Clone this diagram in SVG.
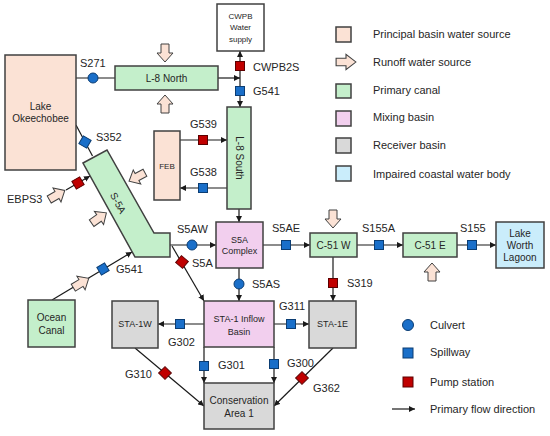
<svg xmlns="http://www.w3.org/2000/svg" xmlns:xlink="http://www.w3.org/1999/xlink" width="550" height="436" viewBox="0 0 550 436">
<style>
text{font-family:"Liberation Sans",Arial,sans-serif;fill:#262626}
.lbl{font-size:11px}
.nt{font-size:10px;text-anchor:middle}
.ns{font-size:9px;text-anchor:middle}
.box{stroke:#404040;stroke-width:1.5}
.peach{fill:#fbe2d5}
.green{fill:#c4efcb}
.pink{fill:#f2cfee}
.gray{fill:#d9d9d9}
.blue{fill:#caedfb}
.white{fill:#ffffff}
.con{stroke:#1a1a1a;stroke-width:1.2;fill:none}
.arr{marker-end:url(#ah)}
.cul,.spl{fill:#1a6fc9;stroke:#0b3d73;stroke-width:1}
.pmp{fill:#c00000;stroke:#5c0000;stroke-width:1}
.run{fill:#fbe2d5;stroke:#404040;stroke-width:1}
</style>
<defs>
<marker id="ah" viewBox="0 0 10 10" refX="10" refY="5" markerWidth="6" markerHeight="6" orient="auto" markerUnits="userSpaceOnUse"><path d="M0,0 L10,5 L0,10 z" fill="#1a1a1a"/></marker>
<path id="runoff" d="M-9,-4 L0,-4 L0,-8 L9,0 L0,8 L0,4 L-9,4 Z"/>
<rect id="sq" x="-4.5" y="-4.5" width="9" height="9"/>
</defs>
<rect width="550" height="436" fill="#ffffff"/>

<g id="connectors">
<line class="con" x1="76" y1="78" x2="115" y2="78"/>
<line class="con arr" x1="218" y1="78" x2="240" y2="78"/>
<line class="con arr" x1="240" y1="78" x2="240" y2="51"/>
<line class="con arr" x1="240" y1="78" x2="240" y2="107"/>
<line class="con arr" x1="180" y1="140" x2="227" y2="140"/>
<line class="con arr" x1="227" y1="188" x2="180" y2="188"/>
<line class="con arr" x1="239" y1="209" x2="239" y2="222"/>
<line class="con" x1="76" y1="125" x2="92.5" y2="156"/>
<line class="con arr" x1="66" y1="190" x2="90" y2="176"/>
<line class="con arr" x1="52" y1="300" x2="132" y2="252"/>
<line class="con arr" x1="169" y1="245" x2="216" y2="245"/>
<line class="con arr" x1="172" y1="246" x2="204" y2="301"/>
<line class="con arr" x1="263" y1="245" x2="310" y2="245"/>
<line class="con arr" x1="357" y1="245" x2="403" y2="245"/>
<line class="con arr" x1="457" y1="245" x2="496" y2="245"/>
<line class="con arr" x1="333" y1="257" x2="333" y2="301"/>
<line class="con arr" x1="239" y1="268" x2="239" y2="301"/>
<line class="con arr" x1="204" y1="324" x2="158" y2="324"/>
<line class="con arr" x1="274" y1="324" x2="309" y2="324"/>
<line class="con arr" x1="204" y1="347" x2="204" y2="383"/>
<line class="con arr" x1="274" y1="347" x2="274" y2="383"/>
<line class="con arr" x1="135" y1="348" x2="204" y2="406"/>
<line class="con arr" x1="333" y1="348" x2="274" y2="406"/>
</g>

<g id="lake-okeechobee">
<rect class="box peach" x="5" y="55" width="71" height="115"/>
<text class="nt" x="40.5" y="110">Lake</text>
<text class="nt" x="40.5" y="122">Okeechobee</text>
</g>
<g id="l8-north">
<rect class="box green" x="115" y="66" width="103" height="24"/>
<text class="nt" x="166.5" y="81.5">L-8 North</text>
</g>
<g id="cwpb">
<rect class="box white" x="217" y="4" width="47" height="47"/>
<text class="nt" style="font-size:8px" x="240.5" y="19">CWPB</text>
<text class="nt" style="font-size:8px" x="240.5" y="30">Water</text>
<text class="nt" style="font-size:8px" x="240.5" y="42">supply</text>
</g>
<g id="l8-south">
<rect class="box green" x="227" y="107" width="24" height="102"/>
<text class="nt" transform="translate(239,158) rotate(90)" y="3.5">L-8 South</text>
</g>
<g id="feb">
<rect class="box peach" x="154" y="131" width="26" height="69"/>
<text class="nt" style="font-size:8px" x="167" y="169">FEB</text>
</g>
<g id="s-5a">
<polygon class="box green" points="83,163 107,150 154,233 170,233 170,257 135,257"/>
<text class="nt" transform="translate(118,203) rotate(62)" y="3.5">S-5A</text>
</g>
<g id="s5a-complex">
<rect class="box pink" x="216" y="222" width="47" height="46"/>
<text class="ns" x="239.5" y="243">S5A</text>
<text class="ns" x="239.5" y="254">Complex</text>
</g>
<g id="c51w">
<rect class="box green" x="310" y="233" width="47" height="24"/>
<text class="nt" x="333.5" y="248.5">C-51 W</text>
</g>
<g id="c51e">
<rect class="box green" x="403" y="233" width="54" height="24"/>
<text class="nt" x="430" y="248.5">C-51 E</text>
</g>
<g id="lake-worth-lagoon">
<rect class="box blue" x="496" y="222" width="48" height="46"/>
<text class="nt" x="520" y="236.5">Lake</text>
<text class="nt" x="520" y="248.5">Worth</text>
<text class="nt" x="520" y="261">Lagoon</text>
</g>
<g id="ocean-canal">
<rect class="box green" x="28" y="300" width="47" height="47"/>
<text class="nt" x="51.5" y="321">Ocean</text>
<text class="nt" x="51.5" y="333.5">Canal</text>
</g>
<g id="sta1-inflow-basin">
<rect class="box pink" x="204" y="301" width="70" height="46"/>
<text class="ns" x="239" y="321.5">STA-1 Inflow</text>
<text class="ns" x="239" y="334.5">Basin</text>
</g>
<g id="sta1w">
<rect class="box gray" x="112" y="301" width="46" height="47"/>
<text class="ns" x="135" y="327">STA-1W</text>
</g>
<g id="sta1e">
<rect class="box gray" x="309" y="301" width="47" height="47"/>
<text class="ns" x="332.5" y="327">STA-1E</text>
</g>
<g id="conservation-area-1">
<rect class="box gray" x="204" y="383" width="70" height="46"/>
<text class="nt" x="239" y="404">Conservation</text>
<text class="nt" x="239" y="417">Area 1</text>
</g>

<g id="runoff-sources">
<use href="#runoff" class="run" transform="translate(165,53) rotate(90)"/>
<use href="#runoff" class="run" transform="translate(165,104) rotate(-90)"/>
<use href="#runoff" class="run" transform="translate(333,219) rotate(90)"/>
<use href="#runoff" class="run" transform="translate(432,272) rotate(-90)"/>
<use href="#runoff" class="run" transform="translate(57,195) rotate(-30)"/>
<use href="#runoff" class="run" transform="translate(99,218) rotate(-35)"/>
<use href="#runoff" class="run" transform="translate(137,177) rotate(152)"/>
<use href="#runoff" class="run" transform="translate(81,283) rotate(-31)"/>
</g>

<g id="structures">
<circle class="cul" cx="93" cy="78" r="5"/>
<use href="#sq" class="pmp" x="240" y="66"/>
<use href="#sq" class="spl" x="240" y="91"/>
<use href="#sq" class="pmp" x="203" y="140"/>
<use href="#sq" class="spl" x="203" y="188"/>
<use href="#sq" class="spl" transform="translate(85,142) rotate(30)"/>
<use href="#sq" class="pmp" transform="translate(78,183) rotate(-30)"/>
<use href="#sq" class="spl" transform="translate(103,269) rotate(-31)"/>
<circle class="cul" cx="192" cy="245" r="5"/>
<use href="#sq" class="pmp" transform="translate(182,262) rotate(40)"/>
<use href="#sq" class="spl" x="286" y="245"/>
<use href="#sq" class="spl" x="379" y="245"/>
<use href="#sq" class="spl" x="472" y="245"/>
<use href="#sq" class="pmp" x="333" y="283"/>
<circle class="cul" cx="239" cy="284" r="5"/>
<use href="#sq" class="spl" x="180" y="324"/>
<use href="#sq" class="spl" x="291" y="324"/>
<use href="#sq" class="spl" x="204" y="366"/>
<use href="#sq" class="spl" x="274" y="364"/>
<use href="#sq" class="pmp" transform="translate(165,373) rotate(45)"/>
<use href="#sq" class="pmp" transform="translate(302,378) rotate(45)"/>
</g>

<g id="labels">
<text class="lbl" x="80" y="67">S271</text>
<text class="lbl" x="253" y="71">CWPB2S</text>
<text class="lbl" x="253" y="95">G541</text>
<text class="lbl" x="96" y="141">S352</text>
<text class="lbl" x="190" y="128">G539</text>
<text class="lbl" x="190" y="176">G538</text>
<text class="lbl" x="7" y="203">EBPS3</text>
<text class="lbl" x="177" y="233">S5AW</text>
<text class="lbl" x="192" y="267">S5A</text>
<text class="lbl" x="116" y="273">G541</text>
<text class="lbl" x="272" y="232">S5AE</text>
<text class="lbl" x="362" y="232">S155A</text>
<text class="lbl" x="460" y="232">S155</text>
<text class="lbl" x="252" y="288">S5AS</text>
<text class="lbl" x="347" y="287">S319</text>
<text class="lbl" x="279" y="310">G311</text>
<text class="lbl" x="168" y="346">G302</text>
<text class="lbl" x="218" y="369">G301</text>
<text class="lbl" x="287" y="367">G300</text>
<text class="lbl" x="125" y="378">G310</text>
<text class="lbl" x="313" y="392">G362</text>
</g>

<g id="legend">
<rect class="box peach" x="336" y="27" width="15" height="15"/>
<text class="lbl" x="373" y="38">Principal basin water source</text>
<use href="#runoff" class="run" transform="translate(346,62) scale(1.1,0.95)"/>
<text class="lbl" x="373" y="66">Runoff water source</text>
<rect class="box green" x="336" y="84" width="15" height="14"/>
<text class="lbl" x="373" y="94">Primary canal</text>
<rect class="box pink" x="336" y="111" width="15" height="15"/>
<text class="lbl" x="373" y="121">Mixing basin</text>
<rect class="box gray" x="336" y="138" width="15" height="15"/>
<text class="lbl" x="373" y="149">Receiver basin</text>
<rect class="box blue" x="336" y="166" width="15" height="15"/>
<text class="lbl" x="373" y="178">Impaired coastal water body</text>
<circle class="cul" cx="408" cy="325" r="5.5"/>
<text class="lbl" x="430" y="329">Culvert</text>
<rect class="spl" x="403" y="348" width="10" height="10"/>
<text class="lbl" x="430" y="356">Spillway</text>
<rect class="pmp" x="403" y="377" width="10" height="10"/>
<text class="lbl" x="430" y="386">Pump station</text>
<line class="con arr" x1="392" y1="409" x2="415" y2="409"/>
<text class="lbl" x="430" y="413">Primary flow direction</text>
</g>
</svg>
